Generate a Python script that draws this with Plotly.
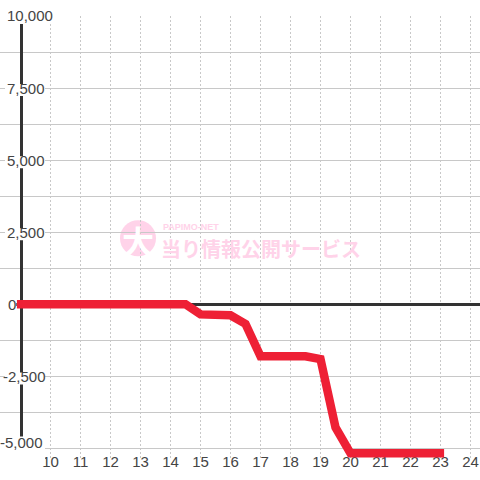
import plotly.graph_objects as go

hours = [8.88, 14.5, 15, 16, 16.5, 17, 18.5, 19, 19.5, 20, 23.12]
values = [0, 0, -350, -380, -680, -1800, -1800, -1900, -4270, -5170, -5170]
x_ticks = list(range(10, 25))
y_grid = [v * 1250 for v in range(-4, 9)]
y_labels = {10000: "10,000", 7500: "7,500", 5000: "5,000", 2500: "2,500", 0: "0", -2500: "-2,500", -5000: "-5,000"}
watermark_title = "当り情報公開サービス"
watermark_small = "PAPIMO-NET"

W = 480.0
AXIS_X = 20.5
TOP = 16.0
Y_MIN = -5400
UNIT = 15000 / 432          # value per pixel
BOTTOM = TOP + (10000 - Y_MIN) / UNIT
def px(p):
    return p / W
def py(p):
    return (BOTTOM - p) / (BOTTOM - TOP)
def hx(p):
    return 9 + (p - AXIS_X) / 30.0
PINK = "#ffd3e9"

shapes = [
    # blank band under the -5,000 gridline (the plot area runs lower so the line is not culled)
    dict(type="rect", layer="between", xref="paper", yref="y", x0=0, x1=1, y0=Y_MIN, y1=-5000 - 1 * UNIT,
         fillcolor="white", line_width=0),
    # gridlines start at the axis
    dict(type="rect", layer="between", xref="paper", yref="paper", x0=0, x1=px(19), y0=0, y1=1,
         fillcolor="white", line_width=0),
]
annotations = []
for v, t in y_labels.items():
    if v == -5000:
        y0, y1, x0, x1, tx, anc = Y_MIN, v + 12 * UNIT, 0, 45, 44, "right"
    elif v == 10000:
        y0, y1, x0, x1, tx, anc = v - 8 * UNIT, v + 4 * UNIT, 5, 52, 5.5, "left"
    elif v == 0:
        y0, y1, x0, x1, tx, anc = v - 8 * UNIT, v + 8 * UNIT, 0, 16.3, 6.5, "left"
    else:
        y0, y1, x0, x1, tx, anc = v - 8 * UNIT, v + 4 * UNIT, 5, 45, 5.5 if v > 0 else 1.5, "left"
    shapes.append(dict(type="rect", layer="above", xref="paper", yref="y", x0=px(x0), x1=px(x1), y0=y0, y1=y1,
                       fillcolor="white", line_width=0))
    annotations.append(dict(xref="paper", yref="y", x=px(tx), y=v, text=t, showarrow=False, xanchor=anc, yanchor="middle",
                            yshift=6 if v == -5000 else 1 if v == 10000 else 0,
                            font=dict(family="Liberation Sans", size=15, color="#444"), borderpad=0))

shapes.append(dict(type="circle", layer="between", xref="paper", yref="paper",
                   x0=px(120), x1=px(156), y0=py(256), y1=py(220), fillcolor=PINK, line_width=0))
annotations += [
    dict(xref="paper", yref="paper", x=px(138), y=py(240), text="<b>大</b>", showarrow=False,
         xanchor="center", yanchor="middle", font=dict(family="Noto Sans CJK JP", size=32, color="#ffffff")),
    dict(xref="paper", yref="paper", x=px(161), y=py(226.5), text="<b>" + watermark_small + "</b>", showarrow=False,
         xanchor="left", yanchor="middle", font=dict(family="Liberation Sans", size=9, color=PINK)),
    dict(xref="paper", yref="paper", x=px(159), y=py(248), text="<b>" + watermark_title + "</b>", showarrow=False,
         xanchor="left", yanchor="middle", font=dict(family="Noto Sans CJK JP", size=20, color=PINK)),
]

fig = go.Figure(go.Scatter(x=hours, y=values, mode="lines", cliponaxis=False,
                           line=dict(color="#ee2035", width=8.5), hoverinfo="skip"))
fig.update_layout(
    width=480, height=480, autosize=False, showlegend=False,
    paper_bgcolor="white", plot_bgcolor="white",
    margin=dict(l=0, r=0, t=TOP, b=W - BOTTOM),
    shapes=shapes, annotations=annotations,
    xaxis=dict(range=[hx(0), hx(480)], tickvals=x_ticks, ticks="", showline=False, zeroline=False,
               showgrid=True, gridcolor="#c8c8c8", griddash="2px,2px", gridwidth=1,
               tickfont=dict(family="Liberation Sans", size=15, color="#444"),
               ticklabelstandoff=-9, layer="below traces"),
    yaxis=dict(range=[Y_MIN, 10000], tickvals=y_grid, showticklabels=False, ticks="",
               anchor="free", position=px(AXIS_X),
               showgrid=True, gridcolor="#c8c8c8", gridwidth=1,
               zeroline=True, zerolinecolor="#333", zerolinewidth=3,
               showline=True, linecolor="#333", linewidth=3, layer="below traces"),
)
fig.write_html("out.html", config={"displayModeBar": False},
               post_script="document.body.style.margin='0';document.documentElement.style.margin='0';")
